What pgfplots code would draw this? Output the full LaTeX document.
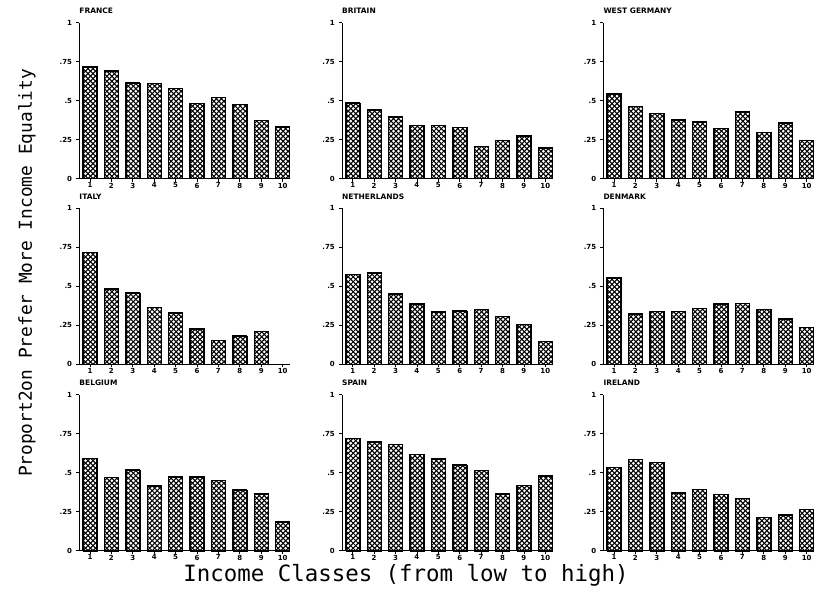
\documentclass[border=0pt]{standalone}
\usepackage{fontspec}
\setmainfont{DejaVu Sans}
\newfontfamily\monofont{DejaVu Sans Mono}
\usepackage{pgfplots}
\usepackage{pgfplotstable}
\pgfplotsset{compat=1.18}
\pgfplotstableread{
cls  FR    GB    WG    IT    NL    DK    BE    ES    IE
1    0.716 0.485 0.543 0.716 0.575 0.553 0.591 0.721 0.534
2    0.692 0.442 0.462 0.483 0.585 0.323 0.470 0.698 0.587
3    0.615 0.395 0.419 0.457 0.451 0.338 0.517 0.681 0.566
4    0.611 0.342 0.378 0.365 0.387 0.340 0.415 0.617 0.370
5    0.577 0.340 0.365 0.329 0.335 0.359 0.472 0.589 0.394
6    0.481 0.329 0.321 0.226 0.342 0.387 0.472 0.549 0.362
7    0.521 0.207 0.429 0.152 0.350 0.389 0.449 0.513 0.334
8    0.476 0.246 0.295 0.182 0.306 0.353 0.391 0.364 0.213
9    0.374 0.274 0.357 0.212 0.254 0.291 0.364 0.419 0.230
10   0.331 0.197 0.244 nan   0.147 0.237 0.185 0.479 0.266
}\data
\pgfdeclareplotmark{emptymark}{}
\pgfplotsset{panel/.style={
  scale only axis, width=210.8bp, height=156bp,
  xmin=0.5, xmax=10.35, ymin=0, ymax=1,
  axis lines*=left,
  ytick={0,0.25,0.5,0.75,1}, yticklabels={0,.25,.5,.75,1},
  xtick={1,2,3,4,5,6,7,8,9,10}, xticklabels={1,2,3,4,5,6,7,8,9,10},
  tick align=outside, major tick length=3bp,
  ticklabel style={font=\fontsize{7}{8}\selectfont\bfseries},
  xticklabel style={inner sep=1bp},
  yticklabel style={inner sep=1bp, xshift=-3bp},
  tick style={black, line width=0.8bp},
  axis line style={line width=1bp},
  anchor=south west, clip=false,
  every axis title/.style={at={(0,1)}, anchor=base west, yshift=8.7bp, inner sep=0pt, font=\fontsize{7.5}{9}\selectfont\bfseries},
},
hatch/.style={scatter, only marks, mark=emptymark,
  visualization depends on={rawy \as \yv},
  scatter/@pre marker code/.code={%
    \pgfmathsetlengthmacro{\hh}{\yv*156bp}%
    \begin{scope}
    \clip (-7bp,-\hh) rectangle (7bp,0pt);
    \foreach \i in {-26,...,4}{\draw[black, line width=1.05bp] (\i*5bp-7bp,-\hh) -- ++(140bp,140bp);}
    \foreach \i in {-2,...,30}{\draw[black, line width=1.05bp] (\i*5bp-7bp,-\hh) -- ++(-140bp,140bp);}
    \end{scope}
  },
  scatter/@post marker code/.code={}},
outline/.style={ybar, bar width=14bp, draw=black, line width=1.2bp, fill=none, mark=none}
}
\newcommand\panel[4]{%
\begin{axis}[panel, at={(#1,#2)}, title={#3}]
\addplot[hatch] table[x=cls, y=#4]{\data};
\addplot[outline] table[x=cls, y=#4]{\data};
\end{axis}}
\begin{document}
\begin{tikzpicture}
\path[use as bounding box] (0,0) rectangle (817bp,600bp);
\panel{79.3bp}{421.3bp}{FRANCE}{FR}
\panel{342bp}{421.3bp}{BRITAIN}{GB}
\panel{603.3bp}{421.3bp}{WEST GERMANY}{WG}
\panel{79.3bp}{235.7bp}{ITALY}{IT}
\panel{342bp}{235.7bp}{NETHERLANDS}{NL}
\panel{603.3bp}{235.7bp}{DENMARK}{DK}
\panel{79.3bp}{49.3bp}{BELGIUM}{BE}
\panel{342bp}{49.3bp}{SPAIN}{ES}
\panel{603.3bp}{49.3bp}{IRELAND}{IE}
\node[font=\monofont\fontsize{22.5}{24}\selectfont] at (406bp,25bp) {Income Classes (from low to high)};
\node[rotate=90, font=\monofont\fontsize{17.9}{20}\selectfont] at (27bp,327bp) {Proport2on Prefer More Income Equality};
\end{tikzpicture}
\end{document}
